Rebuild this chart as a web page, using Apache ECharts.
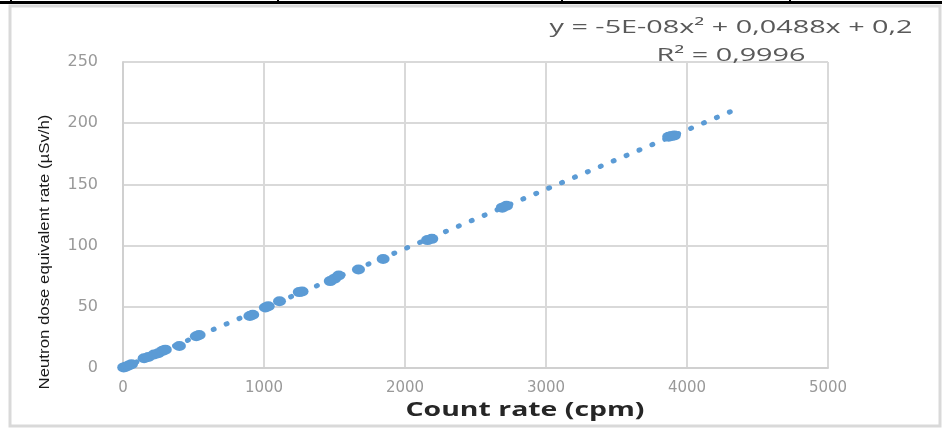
<!DOCTYPE html>
<html>
<head>
<meta charset="utf-8">
<script src="https://cdn.jsdelivr.net/npm/echarts@6/dist/echarts.min.js"></script>
<style>
html,body{margin:0;padding:0;background:#fff;}
#chart{width:942px;height:429px;}
</style>
</head>
<body>
<div id="chart"></div>
<script>
// Measured points: count rate (cpm) vs neutron dose equivalent rate (µSv/h)
var countRate = [5, 20, 40, 60, 150, 180, 220, 250, 280, 300, 400, 520, 540, 900, 920, 1010, 1030, 1110, 1250, 1270, 1470, 1500, 1530, 1670, 1845, 2160, 2190, 2690, 2720, 3870, 3890, 3910];
var doseRate  = [0.5, 1, 2, 3, 8, 9, 11, 12, 14, 15, 18, 26, 27, 42.5, 43.5, 49.5, 50.5, 54.5, 62, 62.5, 71, 73, 75.5, 80.5, 89, 104.5, 105.5, 131, 132.5, 189, 189.5, 190];
// Polynomial trendline
var trendX = [0, 1000, 2000, 3000, 4310];
var trendY = [0.2, 49, 97.5, 146, 209.5];
var xTicks = [0, 1000, 2000, 3000, 4000, 5000];
var yTicks = [0, 50, 100, 150, 200, 250];
var equationText = 'y = -5E-08x² + 0,0488x + 0,2';
var r2Text = 'R² = 0,9996';
var xTitle = 'Count rate (cpm)';
var yTitle = 'Neutron dose equivalent rate (µSv/h)';

var points = countRate.map(function (x, i) { return [x, doseRate[i]]; });
var trend = trendX.map(function (x, i) { return [x, trendY[i]]; });

var chart = echarts.init(document.getElementById('chart'), null, {renderer: 'canvas'});
chart.setOption({
  animation: false,
  backgroundColor: '#ffffff',
  grid: {left: 123, right: 114, top: 62, bottom: 61, containLabel: false},
  xAxis: {
    type: 'value', min: xTicks[0], max: xTicks[xTicks.length - 1], interval: 1000,
    axisLine: {show: true, lineStyle: {color: '#d0d0d0', width: 2}},
    axisTick: {show: false},
    splitLine: {show: true, lineStyle: {color: '#d9d9d9', width: 2}},
    axisLabel: {margin: 13, fontFamily: 'DejaVu Sans', fontSize: 15, color: '#999999',
      formatter: function (v) { return String(v); }}
  },
  yAxis: {
    type: 'value', min: yTicks[0], max: yTicks[yTicks.length - 1], interval: 50,
    axisLine: {show: true, lineStyle: {color: '#d0d0d0', width: 2}},
    axisTick: {show: false},
    splitLine: {show: true, lineStyle: {color: '#d9d9d9', width: 2}},
    axisLabel: {margin: 25, fontFamily: 'DejaVu Sans', fontSize: 16, color: '#999999',
      formatter: function (v) { return String(v); }}
  },
  series: [
    {
      type: 'line', data: trend, symbol: 'none', silent: true, z: 2,
      lineStyle: {color: '#5b9bd5', width: 5, type: [1, 13], cap: 'round'}
    },
    {
      type: 'scatter', data: points, symbol: 'circle', symbolSize: [13, 10], z: 3,
      itemStyle: {color: '#5b9bd5', opacity: 1}
    }
  ],
  graphic: [
    {type: 'rect', shape: {x: 10, y: 6, width: 930, height: 420}, style: {fill: 'none', stroke: '#d9d9d9', lineWidth: 3}, z: 0, silent: true},
    {type: 'rect', shape: {x: 0, y: 1, width: 942, height: 3}, style: {fill: '#000'}, silent: true},
    {type: 'rect', shape: {x: 10, y: 0, width: 2, height: 2}, style: {fill: '#000'}, silent: true},
    {type: 'rect', shape: {x: 277, y: 0, width: 2, height: 2}, style: {fill: '#000'}, silent: true},
    {type: 'rect', shape: {x: 561, y: 0, width: 2, height: 2}, style: {fill: '#000'}, silent: true},
    {type: 'rect', shape: {x: 789, y: 0, width: 2, height: 2}, style: {fill: '#000'}, silent: true},
    {type: 'text', x: 731, y: 28, scaleX: 1.6, style: {text: equationText, font: '18px "Open Sans"', fill: '#595959', align: 'center', verticalAlign: 'middle'}, z: 10},
    {type: 'text', x: 731, y: 56, scaleX: 1.6, style: {text: r2Text, font: '18px "Open Sans"', fill: '#595959', align: 'center', verticalAlign: 'middle'}, z: 10},
    {type: 'text', x: 525, y: 410, scaleX: 1.42, style: {text: xTitle, font: 'bold 20px "Open Sans"', fill: '#262626', align: 'center', verticalAlign: 'middle'}, z: 10},
    {type: 'text', x: 45, y: 252, rotation: Math.PI / 2, scaleX: 1.12, style: {text: yTitle, font: '15px "Liberation Sans"', fill: '#1a1a1a', align: 'center', verticalAlign: 'middle'}, z: 10}
  ]
});
</script>
</body>
</html>
